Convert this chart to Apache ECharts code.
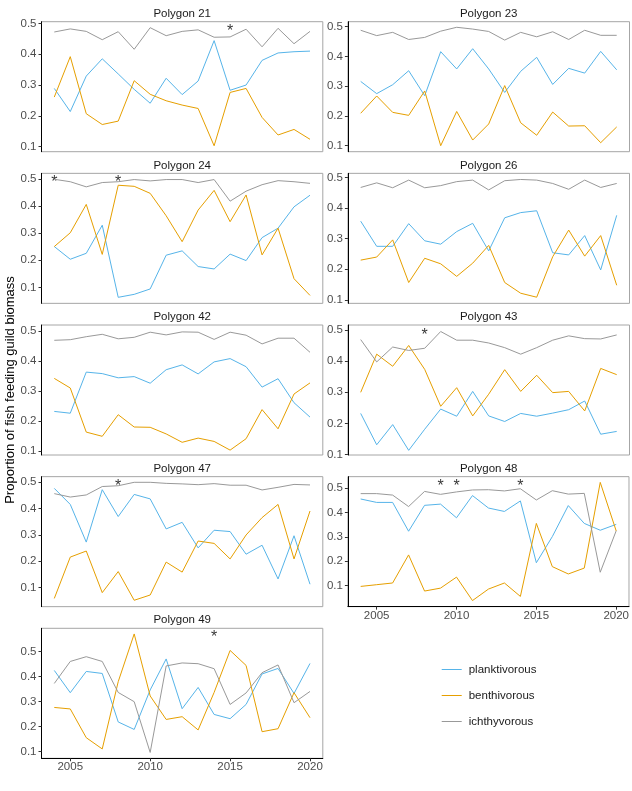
<!DOCTYPE html>
<html><head><meta charset="utf-8">
<script src="https://cdn.jsdelivr.net/npm/echarts@6/dist/echarts.min.js"></script>
<style>html,body{margin:0;padding:0;background:#fff}#c{width:632px;height:791px}</style>
</head><body><div id="c"></div>
<script>
const years = [2004,2005,2006,2007,2008,2009,2010,2011,2012,2013,2014,2015,2016,2017,2018,2019,2020];
const panelNames = ['Polygon 21','Polygon 23','Polygon 24','Polygon 26','Polygon 42','Polygon 43','Polygon 47','Polygon 48','Polygon 49'];
const seriesNames = ['planktivorous','benthivorous','ichthyvorous'];
const xTicks = [2005,2010,2015,2020];
const yTicks = [0.1,0.2,0.3,0.4,0.5];

const plank21 = [0.289,0.214,0.329,0.385,0.336,0.286,0.241,0.322,0.269,0.313,0.444,0.283,0.300,0.380,0.404,0.408,0.410];
const benth21 = [0.261,0.392,0.207,0.172,0.183,0.314,0.270,0.249,0.235,0.224,0.103,0.276,0.289,0.195,0.138,0.156,0.124];
const ichth21 = [0.472,0.482,0.474,0.447,0.473,0.416,0.486,0.460,0.474,0.479,0.455,0.456,0.481,0.424,0.484,0.434,0.474];

const plank23 = [0.316,0.275,0.305,0.352,0.268,0.416,0.358,0.426,0.358,0.279,0.350,0.397,0.306,0.360,0.344,0.417,0.355];
const benth23 = [0.209,0.267,0.212,0.202,0.284,0.100,0.215,0.119,0.173,0.302,0.177,0.135,0.213,0.166,0.167,0.110,0.163];
const ichth23 = [0.488,0.470,0.481,0.457,0.464,0.485,0.498,0.492,0.484,0.455,0.481,0.466,0.483,0.457,0.488,0.471,0.471];

const plank24 = [0.251,0.204,0.226,0.330,0.063,0.074,0.094,0.219,0.235,0.177,0.168,0.223,0.199,0.284,0.319,0.398,0.441];
const benth24 = [0.251,0.302,0.407,0.222,0.478,0.474,0.448,0.365,0.269,0.386,0.459,0.343,0.442,0.220,0.319,0.132,0.070];
const ichth24 = [0.500,0.491,0.472,0.488,0.491,0.499,0.494,0.499,0.499,0.488,0.499,0.419,0.456,0.480,0.495,0.491,0.485];

const plank26 = [0.357,0.275,0.275,0.349,0.293,0.282,0.323,0.350,0.260,0.368,0.385,0.391,0.254,0.247,0.310,0.198,0.376];
const benth26 = [0.230,0.240,0.296,0.157,0.236,0.218,0.177,0.220,0.278,0.157,0.122,0.109,0.241,0.328,0.243,0.310,0.148];
const ichth26 = [0.467,0.482,0.466,0.491,0.466,0.473,0.486,0.491,0.459,0.489,0.493,0.491,0.480,0.461,0.491,0.467,0.480];

const plank42 = [0.232,0.226,0.363,0.358,0.344,0.348,0.326,0.371,0.387,0.357,0.397,0.408,0.381,0.313,0.341,0.261,0.213];
const benth42 = [0.342,0.310,0.163,0.149,0.221,0.180,0.179,0.157,0.129,0.143,0.132,0.103,0.141,0.238,0.174,0.290,0.327];
const ichth42 = [0.469,0.471,0.481,0.489,0.474,0.479,0.496,0.487,0.497,0.496,0.472,0.496,0.486,0.457,0.476,0.476,0.429];

const plank43 = [0.232,0.131,0.196,0.113,0.181,0.246,0.223,0.303,0.224,0.206,0.232,0.223,0.233,0.244,0.272,0.165,0.174];
const benth43 = [0.300,0.423,0.384,0.451,0.374,0.255,0.315,0.224,0.294,0.373,0.303,0.355,0.299,0.303,0.240,0.377,0.357];
const ichth43 = [0.470,0.398,0.446,0.435,0.442,0.496,0.468,0.468,0.459,0.444,0.423,0.444,0.468,0.482,0.473,0.472,0.485];

const plank47 = [0.477,0.416,0.273,0.472,0.370,0.454,0.437,0.323,0.348,0.251,0.318,0.313,0.227,0.261,0.133,0.297,0.113];
const benth47 = [0.059,0.216,0.239,0.081,0.161,0.052,0.072,0.197,0.159,0.277,0.268,0.209,0.300,0.366,0.416,0.209,0.391];
const ichth47 = [0.457,0.444,0.452,0.484,0.487,0.500,0.500,0.496,0.494,0.491,0.495,0.489,0.489,0.471,0.481,0.492,0.490];

const plank48 = [0.455,0.441,0.441,0.323,0.429,0.434,0.378,0.469,0.418,0.404,0.447,0.194,0.301,0.428,0.355,0.327,0.351];
const benth48 = [0.097,0.104,0.111,0.226,0.078,0.090,0.135,0.039,0.086,0.111,0.056,0.355,0.178,0.148,0.172,0.523,0.324];
const ichth48 = [0.477,0.477,0.471,0.424,0.486,0.474,0.484,0.492,0.493,0.488,0.497,0.451,0.489,0.475,0.478,0.155,0.325];

const plank49 = [0.425,0.336,0.421,0.413,0.219,0.189,0.347,0.471,0.272,0.357,0.249,0.232,0.289,0.411,0.433,0.333,0.453];
const benth49 = [0.277,0.271,0.156,0.111,0.380,0.571,0.323,0.229,0.240,0.187,0.337,0.505,0.445,0.180,0.192,0.336,0.236];
const ichth49 = [0.373,0.461,0.480,0.461,0.337,0.300,0.097,0.443,0.455,0.452,0.432,0.289,0.335,0.416,0.447,0.296,0.341];

// significance asterisks: years per panel and the height they sit at
const starYears = [[2015],[],[2004,2008],[],[],[2008],[2008],[2009,2010,2014],[2014]];
const starLevel = [0.487,0,0.504,0,0,0.496,0.500,0.523,0.572];

// y ranges per panel (free scales)
const yMin = [0.0838,0.0798,0.0407,0.089,0.0867,0.098,0.0278,0.0141,0.0736];
const yMax = [0.5054,0.5168,0.522,0.513,0.52,0.517,0.5215,0.5465,0.5936];

const panelData = [
  [plank21,benth21,ichth21],[plank23,benth23,ichth23],[plank24,benth24,ichth24],
  [plank26,benth26,ichth26],[plank42,benth42,ichth42],[plank43,benth43,ichth43],
  [plank47,benth47,ichth47],[plank48,benth48,ichth48],[plank49,benth49,ichth49]
];

const colors = ['#56B4E9','#E69F00','#999999'];
const FONT = 'Liberation Sans, Arial, Helvetica, sans-serif';
const colLeft = [41.5, 347.9], colWidth = [281.3, 281.6];
const H = 130;
const rowTop = r => 21.7 + r * 151.65;

const grid = [], xAxis = [], yAxis = [], series = [], graphic = [];
panelNames.forEach((name, i) => {
  const c = i % 2, r = Math.floor(i / 2);
  const showX = (i === 7 || i === 8);
  grid.push({left: colLeft[c], top: rowTop(r), width: colWidth[c], height: H,
    show: true, borderColor: '#a6a6a6', borderWidth: 1, backgroundColor: 'transparent', containLabel: false});
  xAxis.push({type: 'value', gridIndex: i, min: 2003.2, max: 2020.8, splitLine: {show: false},
    axisLine: {show: showX, onZero: false, lineStyle: {color: '#000', width: 1}},
    axisTick: {show: showX, length: 3, customValues: xTicks, lineStyle: {color: '#333'}},
    axisLabel: {show: showX, customValues: xTicks, formatter: v => String(v), color: '#4d4d4d', fontSize: 11.5, margin: 3, fontFamily: FONT}});
  yAxis.push({type: 'value', gridIndex: i, min: yMin[i], max: yMax[i], splitLine: {show: false},
    axisLine: {show: true, onZero: false, lineStyle: {color: '#000', width: 1}},
    axisTick: {show: true, length: 3, customValues: yTicks, lineStyle: {color: '#333'}},
    axisLabel: {customValues: yTicks, formatter: v => v.toFixed(1), color: '#4d4d4d', fontSize: 11.5, margin: 5, fontFamily: FONT}});
  panelData[i].forEach((arr, s) => {
    series.push({type: 'line', name: seriesNames[s], xAxisIndex: i, yAxisIndex: i,
      data: years.map((y, k) => [y, arr[k]]), symbol: 'none', silent: true,
      lineStyle: {width: 1, color: colors[s]}, itemStyle: {color: colors[s]}});
  });
  if (starYears[i].length) {
    series.push({type: 'scatter', xAxisIndex: i, yAxisIndex: i, symbolSize: 1,
      itemStyle: {color: 'rgba(0,0,0,0)'}, silent: true,
      data: starYears[i].map(y => [y, starLevel[i]]),
      label: {show: true, formatter: '*', position: 'inside', offset: [0, 4], fontSize: 16, color: '#000', fontFamily: FONT}});
  }
  graphic.push({type: 'text', x: colLeft[c] + colWidth[c] / 2, y: rowTop(r) - 8,
    style: {text: name, textAlign: 'center', textVerticalAlign: 'middle', align: 'center', verticalAlign: 'middle',
      font: '11.5px ' + FONT, fill: '#1a1a1a'}});
});
graphic.push({type: 'text', x: 10, y: 390, rotation: Math.PI / 2,
  style: {text: 'Proportion of fish feeding guild biomass', textAlign: 'center', textVerticalAlign: 'middle',
    align: 'center', verticalAlign: 'middle', font: '13px ' + FONT, fill: '#000'}});

const chart = echarts.init(document.getElementById('c'));
chart.setOption({
  animation: false,
  backgroundColor: '#fff',
  grid, xAxis, yAxis, series, graphic,
  legend: {data: seriesNames.map(n => ({name: n, icon: 'rect'})), orient: 'vertical', left: 441.7, top: 663.5, padding: 0,
    itemWidth: 20, itemHeight: 1, itemGap: 14, selectedMode: false,
    textStyle: {fontSize: 11.5, color: '#1a1a1a', fontFamily: FONT, padding: [0, 0, 0, 2]}}
});
</script></body></html>
